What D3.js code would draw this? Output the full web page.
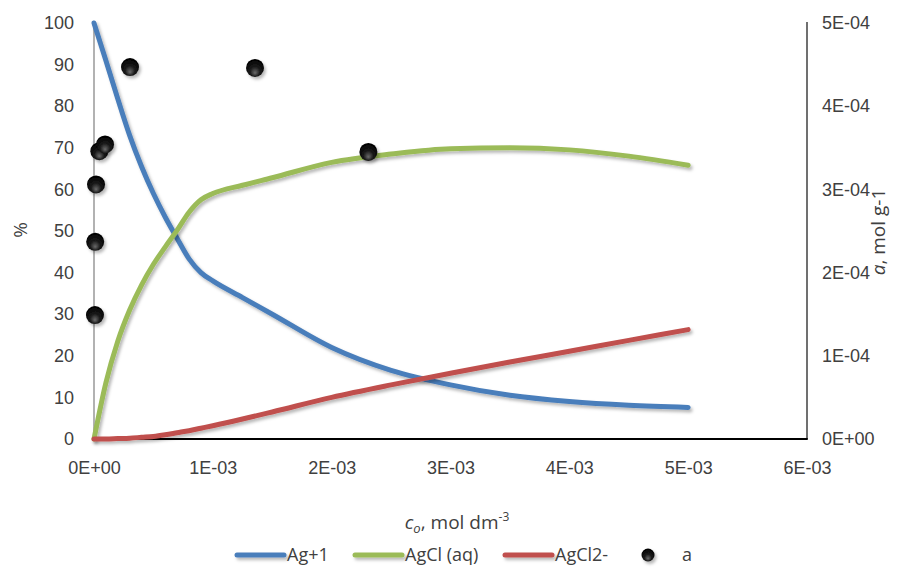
<!DOCTYPE html>
<html>
<head>
<meta charset="utf-8">
<script src="https://cdn.jsdelivr.net/npm/d3@7/dist/d3.min.js"></script>
<style>
  html, body { margin: 0; padding: 0; background: #fff; }
  svg { display: block; font-family: "Open Sans", "Liberation Sans", sans-serif; }
</style>
</head>
<body>
<svg id="chart" width="915" height="569"></svg>
<script>
// Total silver concentration, mol dm^-3
const conc = [0, 0.0001, 0.0002, 0.0003, 0.0004, 0.0005, 0.0006, 0.0007, 0.0008, 0.0009,
              0.001, 0.00125, 0.0015, 0.002, 0.0025, 0.003, 0.0035, 0.004, 0.0045, 0.005];
// Species distribution, %
const agPlus = [100, 91, 81.8, 73, 65.5, 59, 53.3, 48.2, 43.3, 40,
                38, 34, 30, 22, 16.5, 13, 10.5, 9, 8.1, 7.6];
const agClAq = [0, 13.5, 23.5, 31, 37, 42, 46.2, 50.2, 54.5, 57.5,
                59, 61, 62.8, 66.5, 68.5, 69.8, 70, 69.5, 68, 65.8];
const agCl2 = [0, 0, 0.1, 0.2, 0.4, 0.6, 1, 1.5, 2, 2.6,
               3.2, 4.8, 6.5, 10, 13, 15.8, 18.5, 21.1, 23.7, 26.3];
// Adsorbed amount a, mol g^-1
const aConc = [0.000008, 0.00001, 0.000017, 0.000045, 0.000093, 0.000303, 0.001355, 0.002309];
const aValues = [1.49e-4, 2.37e-4, 3.06e-4, 3.46e-4, 3.54e-4, 4.47e-4, 4.46e-4, 3.45e-4];

const seriesNames = ["Ag+1", "AgCl (aq)", "AgCl2-", "a"];
const seriesColors = ["#4a7ebb", "#9bbb59", "#c0504d", "#000"];

const xTicks = [0, 0.001, 0.002, 0.003, 0.004, 0.005, 0.006];
const yLeftTicks = [0, 10, 20, 30, 40, 50, 60, 70, 80, 90, 100];
const yRightTicks = [0, 1e-4, 2e-4, 3e-4, 4e-4, 5e-4];

const svg = d3.select("#chart");
const plot = { left: 94, right: 807, top: 23, bottom: 439 };

const x = d3.scaleLinear().domain([0, 0.006]).range([plot.left, plot.right]);
const yL = d3.scaleLinear().domain([0, 100]).range([plot.bottom, plot.top]);
const yR = d3.scaleLinear().domain([0, 5e-4]).range([plot.bottom, plot.top]);

// Scientific tick format like 1E-03
function sci(v) {
  if (v === 0) return "0E+00";
  const e = Math.floor(Math.log10(Math.abs(v)) + 1e-9);
  const m = Math.round(v / Math.pow(10, e));
  const sign = e < 0 ? "-" : "+";
  return m + "E" + sign + String(Math.abs(e)).padStart(2, "0");
}

const defs = svg.append("defs");
const shadow = defs.append("filter").attr("id", "shadow")
  .attr("filterUnits", "userSpaceOnUse")
  .attr("x", 0).attr("y", 0).attr("width", 915).attr("height", 569);
shadow.append("feDropShadow").attr("dx", 2).attr("dy", 2.5)
  .attr("stdDeviation", 1.6).attr("flood-color", "#000").attr("flood-opacity", 0.28);

const ball = defs.append("radialGradient").attr("id", "ball")
  .attr("cx", "50%").attr("cy", "62%").attr("r", "60%").attr("fx", "50%").attr("fy", "78%");
ball.append("stop").attr("offset", "0%").attr("stop-color", "#6a6a6a");
ball.append("stop").attr("offset", "45%").attr("stop-color", "#1a1a1a");
ball.append("stop").attr("offset", "100%").attr("stop-color", "#000");

const textColor = "#404040";

// Axes
const xAxis = svg.append("g").attr("transform", `translate(0,${plot.bottom})`)
  .call(d3.axisBottom(x).tickValues(xTicks).tickFormat(sci).tickSize(0).tickPadding(22));
const yAxisL = svg.append("g").attr("transform", `translate(${plot.left},0)`)
  .call(d3.axisLeft(yL).tickValues(yLeftTicks).tickSize(0).tickPadding(20));
const yAxisR = svg.append("g").attr("transform", `translate(${plot.right},0)`)
  .call(d3.axisRight(yR).tickValues(yRightTicks).tickFormat(sci).tickSize(0).tickPadding(15));

[xAxis, yAxisL, yAxisR].forEach(g => {
  g.select(".domain").remove();
  g.selectAll("text").attr("fill", textColor)
    .style("font-size", "18px").style("font-family", "inherit");
});

// Axis lines
svg.append("line").attr("x1", plot.left).attr("x2", plot.left)
  .attr("y1", plot.top).attr("y2", plot.bottom)
  .attr("stroke", "#7f7f7f").attr("stroke-width", 1.2);
svg.append("line").attr("x1", plot.right).attr("x2", plot.right)
  .attr("y1", plot.top - 1).attr("y2", plot.bottom)
  .attr("stroke", "#404040").attr("stroke-width", 1.5);
svg.append("line").attr("x1", plot.left).attr("x2", plot.right + 0.75)
  .attr("y1", plot.bottom).attr("y2", plot.bottom)
  .attr("stroke", "#000").attr("stroke-width", 2);

// Species curves
const series = [agPlus, agClAq, agCl2];
const line = d3.line().curve(d3.curveMonotoneX);
series.forEach((vals, i) => {
  svg.append("path")
    .attr("d", line(conc.map((c, k) => [x(c), yL(vals[k])])))
    .attr("fill", "none")
    .attr("stroke", seriesColors[i])
    .attr("stroke-width", 5)
    .attr("stroke-linecap", "round")
    .attr("stroke-linejoin", "round")
    .attr("filter", "url(#shadow)");
});

// Adsorption points on secondary axis
svg.append("g").selectAll("circle")
  .data(aConc.map((c, k) => [c, aValues[k]]))
  .join("circle")
  .attr("cx", d => x(d[0]))
  .attr("cy", d => yR(d[1]))
  .attr("r", 9)
  .attr("fill", "url(#ball)")
  .attr("filter", "url(#shadow)");

// Axis titles
svg.append("text")
  .attr("transform", "translate(27,230) rotate(-90)")
  .attr("text-anchor", "middle")
  .attr("fill", textColor).style("font-size", "19px")
  .text("%");

const rt = svg.append("text")
  .attr("transform", "translate(885,232) rotate(-90)")
  .attr("text-anchor", "middle")
  .attr("fill", textColor).style("font-size", "19px");
rt.append("tspan").attr("font-style", "italic").text("a");
rt.append("tspan").text(", mol g-1");

const xt = svg.append("text")
  .attr("x", 457).attr("y", 529)
  .attr("text-anchor", "middle")
  .attr("fill", textColor).style("font-size", "19px");
xt.append("tspan").attr("font-style", "italic").text("c");
xt.append("tspan").attr("font-style", "italic").attr("dy", 4).style("font-size", "13px").text("o");
xt.append("tspan").attr("dy", -4).text(", mol dm");
xt.append("tspan").attr("dy", -8).style("font-size", "12px").text("-3");

// Legend
const legendY = 555;
const legendItems = [
  { x: 237, tx: 287 },
  { x: 355, tx: 405 },
  { x: 505, tx: 555 },
  { x: 648, tx: 682 }
];
const legend = svg.append("g");
legendItems.forEach((it, i) => {
  if (i < 3) {
    legend.append("line")
      .attr("x1", it.x).attr("x2", it.x + 47)
      .attr("y1", legendY).attr("y2", legendY)
      .attr("stroke", seriesColors[i]).attr("stroke-width", 5)
      .attr("stroke-linecap", "round")
      .attr("filter", "url(#shadow)");
  } else {
    legend.append("circle")
      .attr("cx", it.x).attr("cy", legendY).attr("r", 6.5)
      .attr("fill", "url(#ball)").attr("filter", "url(#shadow)");
  }
  legend.append("text")
    .attr("x", it.tx).attr("y", legendY).attr("dy", "0.35em")
    .attr("fill", textColor).style("font-size", "18px")
    .text(seriesNames[i]);
});
</script>
</body>
</html>
